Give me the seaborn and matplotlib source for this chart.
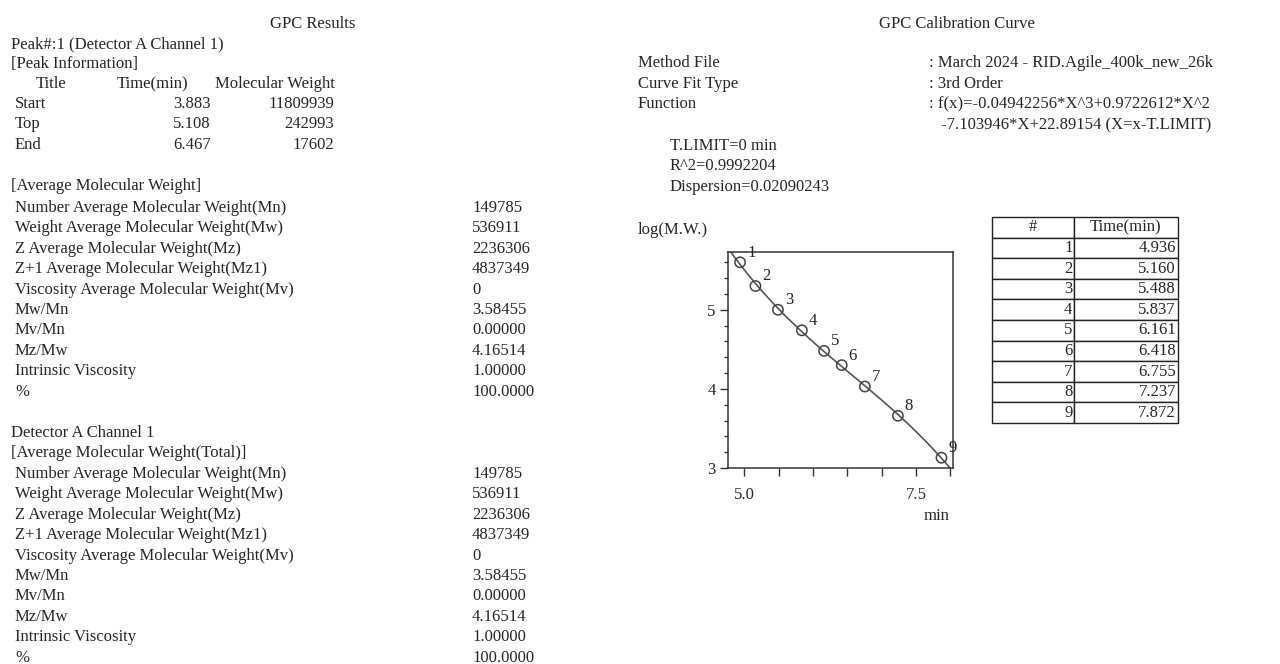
import matplotlib
matplotlib.use('Agg')
import matplotlib.pyplot as plt
import numpy as np
import pandas as pd
import seaborn as sns

# peak information
peak_titles = ['Start', 'Top', 'End']
peak_times = ['3.883', '5.108', '6.467']
peak_mw = ['11809939', '242993', '17602']

# average molecular weight block (same numbers appear twice on the report)
avg_labels = ['Number Average Molecular Weight(Mn)', 'Weight Average Molecular Weight(Mw)',
              'Z Average Molecular Weight(Mz)', 'Z+1 Average Molecular Weight(Mz1)',
              'Viscosity Average Molecular Weight(Mv)', 'Mw/Mn', 'Mv/Mn', 'Mz/Mw',
              'Intrinsic Viscosity', '%']
avg_values = ['149785', '536911', '2236306', '4837349', '0', '3.58455',
              '0.00000', '4.16514', '1.00000', '100.0000']

# calibration info
calib_keys = ['Method File', 'Curve Fit Type', 'Function']
calib_vals = [': March 2024 - RID.Agile_400k_new_26k', ': 3rd Order',
              ': f(x)=-0.04942256*X^3+0.9722612*X^2']
calib_extra = ['T.LIMIT=0 min', 'R^2=0.9992204', 'Dispersion=0.02090243']

# calibration standards
std_no = [1, 2, 3, 4, 5, 6, 7, 8, 9]
std_time = [4.936, 5.160, 5.488, 5.837, 6.161, 6.418, 6.755, 7.237, 7.872]
std_logmw = [5.60, 5.30, 5.00, 4.74, 4.48, 4.30, 4.03, 3.66, 3.13]

sns.set_style('ticks')
plt.rcParams['font.family'] = ['Liberation Serif', 'DejaVu Serif']
plt.rcParams['font.size'] = 12

W, H = 1280, 664
fig = plt.figure(figsize=(W / 100, H / 100), dpi=100)
fs = 12


def txt(x, y, s, ha='left', **kw):
    # pixel coords from top-left
    fig.text(x / W, 1 - y / H, s, ha=ha, va='center', fontsize=kw.pop('size', fs), **kw)


# ---- left side: GPC Results ----
txt(313, 24, 'GPC Results', ha='center')
txt(11, 44, 'Peak#:1 (Detector A Channel 1)')
txt(11, 64, '[Peak Information]')
txt(36, 84, 'Title')
txt(117, 84, 'Time(min)')
txt(215, 84, 'Molecular Weight')
for i, (t, tm, mw) in enumerate(zip(peak_titles, peak_times, peak_mw)):
    y = 104 + i * 20.5
    txt(15, y, t)
    txt(211, y, tm, ha='right')
    txt(334, y, mw, ha='right')

txt(11, 186, '[Average Molecular Weight]')
for i, (lab, val) in enumerate(zip(avg_labels, avg_values)):
    y = 208 + i * 20.4
    txt(15, y, lab)
    txt(472, y, val)

txt(11, 433, 'Detector A Channel 1')
txt(11, 453, '[Average Molecular Weight(Total)]')
for i, (lab, val) in enumerate(zip(avg_labels, avg_values)):
    y = 474 + i * 20.4
    txt(15, y, lab)
    txt(472, y, val)

# ---- right side: calibration ----
txt(957, 24, 'GPC Calibration Curve', ha='center')
for i, (k, v) in enumerate(zip(calib_keys, calib_vals)):
    y = 63 + i * 20.5
    txt(638, y, k)
    txt(929, y, v)
txt(941, 125, '-7.103946*X+22.89154 (X=x-T.LIMIT)')
for i, s in enumerate(calib_extra):
    txt(670, 146 + i * 20.5, s)

txt(638, 230, 'log(M.W.)')
txt(937, 516, 'min', ha='center')

ax = fig.add_axes([728 / W, 1 - 468 / H, 225 / W, 216 / H])
ax.set_xlim(4.76, 8.04)
ax.set_ylim(3.0, 5.73)
df = pd.DataFrame({'time': std_time, 'logmw': std_logmw, 'no': std_no})
sns.regplot(data=df, x='time', y='logmw', order=3, ci=None, scatter=False,
            truncate=False, ax=ax, line_kws={'color': '#555555', 'lw': 1.2})
sns.scatterplot(data=df, x='time', y='logmw', ax=ax, marker='o', s=55,
                facecolor='none', edgecolor='#444444', linewidth=1.1, zorder=3)
for _, r in df.iterrows():
    ax.annotate(str(int(r['no'])), (r['time'], r['logmw']), xytext=(5, 4),
                textcoords='offset points', fontsize=fs, color='#222222')
ax.set_xlim(4.76, 8.04)
ax.set_ylim(3.0, 5.73)
ax.set_xlabel('')
ax.set_ylabel('')
ax.set_xticks([5.0, 7.5])
ax.set_xticklabels(['5.0', '7.5'])
ax.set_xticks([5.5, 6.0, 6.5, 7.0, 8.0], minor=True)
ax.set_yticks([3, 4, 5])
ax.set_yticks([3.2, 3.4, 3.6, 3.8, 4.2, 4.4, 4.6, 4.8, 5.2, 5.4, 5.6], minor=True)
ax.tick_params(axis='both', which='major', direction='out', length=6, width=1,
               labelsize=fs, color='#333333')
ax.tick_params(axis='x', which='major', pad=8)
ax.tick_params(axis='y', which='major', pad=3)
ax.tick_params(axis='y', which='minor', direction='out', length=3, width=1, color='#333333')
ax.tick_params(axis='x', which='minor', direction='out', length=6, width=1, color='#333333')
for sp in ax.spines.values():
    sp.set_visible(True)
    sp.set_color('#333333')
    sp.set_linewidth(1.1)

# ---- table of standards ----
tax = fig.add_axes([992 / W, 1 - 423 / H, 186 / W, 206 / H])
tax.axis('off')
cells = [[str(n), f'{t:.3f}'] for n, t in zip(std_no, std_time)]
tbl = tax.table(cellText=cells, colLabels=['#', 'Time(min)'], bbox=[0, 0, 1, 1],
                colWidths=[82, 104], cellLoc='right', colLoc='center')
tbl.auto_set_font_size(False)
tbl.set_fontsize(fs)
for (r, c), cell in tbl.get_celld().items():
    cell.set_linewidth(1)
    cell.set_edgecolor('#222222')
    cell.PAD = 0.02

fig.savefig('out.png', dpi=100)
